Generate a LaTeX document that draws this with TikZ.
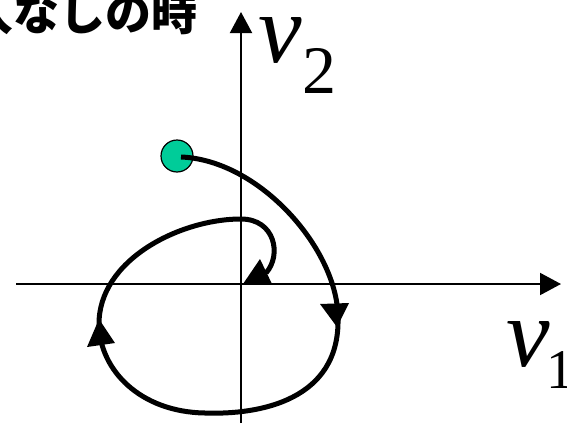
\documentclass[tikz,border=0pt]{standalone}
\usepackage{fontspec}
\setmainfont{Liberation Serif}
\newfontfamily\jpfont{Noto Sans CJK JP}
\usetikzlibrary{arrows.meta}
\definecolor{dotgreen}{RGB}{0,204,153}
\begin{document}
\begin{tikzpicture}[x=1pt,y=-1pt,
  axis/.style={line width=2pt,-{Triangle[length=21pt,width=22pt]}},
  traj/.style={line width=5pt},
  tiphead/.style={fill=black},
  lbl/.style={inner sep=0,anchor=base west}]
\useasboundingbox (0,0) rectangle (567,423);
% axes
\coordinate (xs) at (16,284);
\coordinate (xe) at (561,284);
\coordinate (ys) at (241,423);
\coordinate (ye) at (241,12);
\draw[axis] (xs) -- (xe);
\draw[axis] (ys) -- (ye);
% labels
\node[inner sep=0,anchor=base east] (title) at (198,30) {\jpfont\bfseries\fontsize{46}{46}\selectfont 介入なしの時};
\node[lbl] (v2) at (258,62) {\fontsize{98}{98}\selectfont\itshape v};
\node[lbl] (s2) at (302,93) {\fontsize{68}{68}\selectfont 2};
\node[lbl] (v1) at (506,366) {\fontsize{98}{98}\selectfont\itshape v};
\node[lbl] (s1) at (546,388) {\fontsize{56}{56}\selectfont 1};
% start point
\node[circle,fill=dotgreen,draw=black,line width=1.2pt,minimum size=32pt,inner sep=0] (s) at (177,156) {};
% trajectory
\coordinate (p0) at (181,157);
\coordinate (p1) at (338,318);
\coordinate (p2) at (205,413);
\coordinate (p3) at (99,325);
\coordinate (p4) at (241,219);
\coordinate (p5) at (266,273);
\draw[traj] (p0) .. controls (260,160) and (338,250) .. (p1)
  .. controls (340,400) and (260,415) .. (p2)
  .. controls (140,412) and (100,370) .. (p3)
  .. controls (98,260) and (180,219) .. (p4)
  .. controls (275,219) and (282,255) .. (p5);
% arrowheads
\fill[tiphead] (320,304) -- (349,303) -- (337,327) -- cycle;
\fill[tiphead] (87,347) -- (115,343) -- (99,319) -- cycle;
\fill[tiphead] (243,284) -- (272,284) -- (260,259) -- cycle;
\end{tikzpicture}
\end{document}
